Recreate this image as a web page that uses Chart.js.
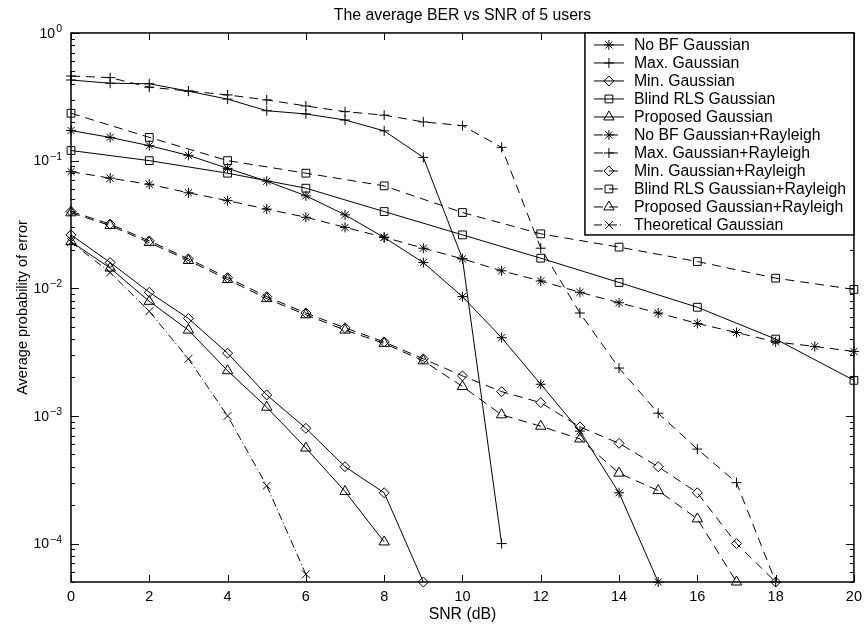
<!DOCTYPE html>
<html lang="en">
<head>
<meta charset="UTF-8">
<title>The average BER vs SNR of 5 users</title>
<script src="https://cdn.jsdelivr.net/npm/chart.js"></script>
<style>
    html, body { margin: 0; padding: 0; background: #fff; }
    canvas { display: block; }
</style>
</head>
<body>
<canvas id="berChart" width="868" height="628"></canvas>
<script>
// SNR axis (dB)
const snrAll = [0, 1, 2, 3, 4, 5, 6, 7, 8, 9, 10, 11, 12, 13, 14, 15, 16, 17, 18, 19, 20];
const snrEven = [0, 2, 4, 6, 8, 10, 12, 14, 16, 18, 20];

// Gaussian channel
const noBfGauss = [0.172, 0.152, 0.131, 0.110, 0.087, 0.069, 0.053, 0.0376, 0.025, 0.0159, 0.0086, 0.0041, 0.00177, 0.00076, 0.00025, 0.00005];
const maxGauss = [0.428, 0.404, 0.40, 0.35, 0.303, 0.246, 0.232, 0.208, 0.171, 0.106, 0.017, 0.0001];
const minGauss = [0.0262, 0.0159, 0.0093, 0.0058, 0.0031, 0.00146, 0.0008, 0.0004, 0.00025, 0.00005];
const blindGauss = [0.12, 0.10, 0.0797, 0.0608, 0.0399, 0.0262, 0.0172, 0.0111, 0.0071, 0.0040, 0.0019];
const propGauss = [0.0232, 0.0144, 0.0079, 0.0047, 0.00226, 0.00117, 0.00056, 0.000256, 0.000103];

// Gaussian + Rayleigh channel
const noBfRay = [0.082, 0.0728, 0.0653, 0.056, 0.0486, 0.0417, 0.036, 0.030, 0.0251, 0.0206, 0.017, 0.0137, 0.0114, 0.0093, 0.0077, 0.0064, 0.0053, 0.0045, 0.0038, 0.0035, 0.0032];
const maxRay = [0.46, 0.447, 0.376, 0.351, 0.327, 0.299, 0.268, 0.242, 0.227, 0.201, 0.188, 0.127, 0.0206, 0.0064, 0.00237, 0.00105, 0.00055, 0.0003, 0.00005];
const minRay = [0.040, 0.0318, 0.0235, 0.0170, 0.0121, 0.0086, 0.0064, 0.0049, 0.0038, 0.0028, 0.00206, 0.00155, 0.00127, 0.00082, 0.00061, 0.0004, 0.00025, 0.0001, 0.00005];
const blindRay = [0.235, 0.152, 0.10, 0.0797, 0.0634, 0.0392, 0.0267, 0.021, 0.0162, 0.012, 0.0098];
const propRay = [0.039, 0.031, 0.0228, 0.0165, 0.0117, 0.0083, 0.0062, 0.0047, 0.0037, 0.0027, 0.0017, 0.00102, 0.00083, 0.00066, 0.000356, 0.00026, 0.000156, 0.00005];

const theoryGauss = [0.023, 0.0133, 0.0066, 0.0028, 0.001, 0.000284, 0.0000575];

// ticks
const xTicks = [0, 2, 4, 6, 8, 10, 12, 14, 16, 18, 20];
const yDecades = [1e-4, 1e-3, 1e-2, 1e-1, 1];
const yExponents = ['\u22124', '\u22123', '\u22122', '\u22121', '0'];
const yMin = 5e-5, yMax = 1;

const FONT = "'Liberation Sans', Arial, Helvetica, sans-serif";
const SOLID = [], DASH = [9, 6], DASHDOT = [8, 3, 1, 3];

function pts(xs, ys) {
    return ys.map((v, i) => ({x: xs[i], y: v}));
}

function series(label, xs, ys, style, radius, dash) {
    return {
        label: label,
        data: pts(xs, ys),
        borderColor: '#000',
        borderWidth: 1,
        borderDash: dash,
        pointStyle: style,
        pointRadius: radius,
        pointBorderColor: '#000',
        pointBackgroundColor: 'rgba(0,0,0,0)',
        pointBorderWidth: 1,
        fill: false,
        tension: 0,
        clip: false
    };
}

const datasets = [
    series('No BF Gaussian', snrAll, noBfGauss, 'star', 5, SOLID),
    series('Max. Gaussian', snrAll, maxGauss, 'cross', 5, SOLID),
    series('Min. Gaussian', snrAll, minGauss, 'rectRot', 5, SOLID),
    series('Blind RLS Gaussian', snrEven, blindGauss, 'rect', 5.5, SOLID),
    series('Proposed Gaussian', snrAll, propGauss, 'triangle', 6, SOLID),
    series('No BF Gaussian+Rayleigh', snrAll, noBfRay, 'star', 5, DASH),
    series('Max. Gaussian+Rayleigh', snrAll, maxRay, 'cross', 5, DASH),
    series('Min. Gaussian+Rayleigh', snrAll, minRay, 'rectRot', 5, DASH),
    series('Blind RLS Gaussian+Rayleigh', snrEven, blindRay, 'rect', 5.5, DASH),
    series('Proposed Gaussian+Rayleigh', snrAll, propRay, 'triangle', 6, DASH),
    series('Theoretical Gaussian', snrAll, theoryGauss, 'crossRot', 5.5, DASHDOT)
];

// box, inward ticks and 10^n labels, matlab style
const axesBox = {
    id: 'axesBox',
    afterDatasetsDraw(chart) {
        const {ctx, chartArea: a, scales: {x, y}} = chart;
        ctx.save();
        ctx.strokeStyle = '#000';
        ctx.lineWidth = 1;
        ctx.beginPath();
        xTicks.forEach(v => {
            const px = Math.round(x.getPixelForValue(v)) + 0.5;
            ctx.moveTo(px, a.bottom); ctx.lineTo(px, a.bottom - 7);
            ctx.moveTo(px, a.top); ctx.lineTo(px, a.top + 7);
        });
        for (let e = -5; e <= 0; e++) {
            for (let k = 1; k <= 9; k++) {
                const v = k * Math.pow(10, e);
                if (v < yMin * 0.999 || v > yMax * 1.001) continue;
                const py = Math.round(y.getPixelForValue(v)) + 0.5;
                const len = k === 1 ? 8 : 4;
                ctx.moveTo(a.left, py); ctx.lineTo(a.left + len, py);
                ctx.moveTo(a.right, py); ctx.lineTo(a.right - len, py);
            }
        }
        ctx.stroke();
        ctx.lineWidth = 1.5;
        ctx.strokeRect(a.left, a.top, a.right - a.left, a.bottom - a.top);

        ctx.fillStyle = '#000';
        yDecades.forEach((v, i) => {
            const py = y.getPixelForValue(v);
            const rightEdge = a.left - 9;
            ctx.font = '10.5px ' + FONT;
            const ew = ctx.measureText(yExponents[i]).width;
            ctx.textAlign = 'left';
            ctx.textBaseline = 'alphabetic';
            ctx.fillText(yExponents[i], rightEdge - ew, py - 1);
            ctx.font = '14px ' + FONT;
            ctx.textAlign = 'right';
            ctx.textBaseline = 'middle';
            ctx.fillText('10', rightEdge - ew - 1, py + 1);
        });
        ctx.restore();
    }
};

// legend box in the upper right corner of the axes
const legendBox = {
    id: 'legendBox',
    afterDraw(chart) {
        const {ctx, chartArea: a} = chart;
        const sets = chart.data.datasets;
        const w = 269, rowH = 18;
        const h = 12 + (sets.length - 1) * rowH + 10;
        const left = a.right - w, top = a.top;
        ctx.save();
        ctx.fillStyle = '#fff';
        ctx.fillRect(left, top, w, h);
        ctx.strokeStyle = '#000';
        ctx.lineWidth = 1.5;
        ctx.strokeRect(left, top, w, h);
        sets.forEach((ds, i) => {
            const cy = top + 12 + i * rowH;
            ctx.lineWidth = 1;
            ctx.strokeStyle = '#000';
            ctx.setLineDash(ds.borderDash);
            ctx.beginPath();
            ctx.moveTo(left + 9, cy);
            ctx.lineTo(left + 39, cy);
            ctx.stroke();
            ctx.setLineDash([]);
            ctx.fillStyle = 'rgba(0,0,0,0)';
            Chart.helpers.drawPoint(ctx, {
                pointStyle: ds.pointStyle, radius: ds.pointRadius, rotation: 0, borderWidth: 1
            }, left + 24, cy);
            ctx.fillStyle = '#000';
            ctx.font = '15.8px ' + FONT;
            ctx.textAlign = 'left';
            ctx.textBaseline = 'middle';
            ctx.fillText(ds.label, left + 49, cy + 1);
        });
        ctx.restore();
    }
};

Chart.defaults.font.family = FONT;
Chart.defaults.color = '#000';

new Chart(document.getElementById('berChart'), {
    type: 'line',
    data: {datasets: datasets},
    options: {
        responsive: false,
        devicePixelRatio: 1,
        animation: false,
        events: [],
        layout: {padding: {top: 0, right: 11, bottom: 0, left: 0}},
        plugins: {
            legend: {display: false},
            tooltip: {enabled: false},
            title: {
                display: true,
                text: 'The average BER vs SNR of 5 users',
                fullSize: false,
                color: '#000',
                font: {size: 15.8, weight: 'normal', family: FONT, lineHeight: 1.2},
                padding: {top: 6.5, bottom: 7.5}
            }
        },
        scales: {
            x: {
                type: 'linear',
                min: 0,
                max: 20,
                grid: {display: false, drawTicks: false},
                border: {display: false},
                ticks: {stepSize: 2, padding: 6, color: '#000', font: {size: 14.5}, autoSkip: false, maxRotation: 0},
                title: {display: true, text: 'SNR (dB)', color: '#000', font: {size: 15.8}, padding: {top: 0, bottom: 3.5}},
                afterFit(s) { s.height = 46; }
            },
            y: {
                type: 'logarithmic',
                min: yMin,
                max: yMax,
                grid: {display: false, drawTicks: false},
                border: {display: false},
                ticks: {display: false},
                title: {display: true, text: 'Average probability of error', color: '#000', font: {size: 14.5}, padding: {top: 14, bottom: 0}},
                afterFit(s) { s.width = 71; }
            }
        }
    },
    plugins: [axesBox, legendBox]
});
</script>
</body>
</html>
